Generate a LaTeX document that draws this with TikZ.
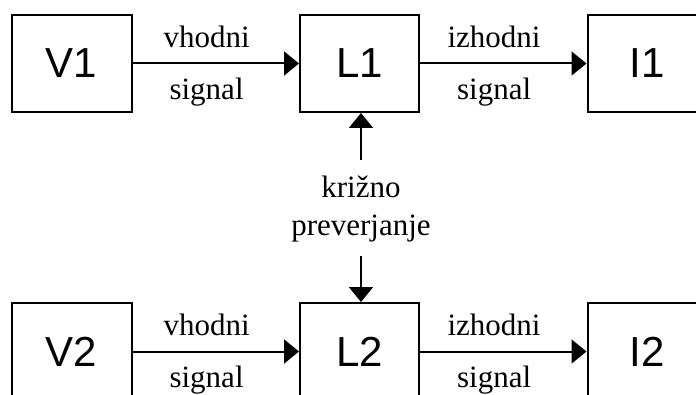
\documentclass[tikz,border=0pt]{standalone}
\usepackage{fontspec}
\setmainfont{Liberation Serif}
\setsansfont{Liberation Sans}
\usetikzlibrary{arrows.meta}

\begin{document}
\begin{tikzpicture}[x=1pt, y=1pt, >={Triangle[length=15pt, width=24pt]}, line width=2pt,
  blok/.style={draw, minimum width=120pt, minimum height=97pt, inner sep=0pt,
    font=\sffamily\fontsize{42}{50}\selectfont},
  oznaka/.style={font=\fontsize{31}{38}\selectfont, align=center, inner sep=0pt}]

% Page frame
\clip (0,0) rectangle (696,394);
\fill[white] (0,0) rectangle (696,394);

% --- Upper chain ---
\node[blok] (V1) at (71.5,330.5) {V1};
\node[blok, minimum width=119pt] (L1) at (359.5,330.5) {L1};
\node[blok] (I1) at (647.5,330.5) {I1};

\draw[->] (V1.east) -- (L1.west)
  node[oznaka, pos=0.445, anchor=base, yshift=16pt] {vhodni}
  node[oznaka, pos=0.445, anchor=base, yshift=-36pt] {signal};
\draw[->] (L1.east) -- (I1.west)
  node[oznaka, pos=0.445, anchor=base, yshift=16pt] {izhodni}
  node[oznaka, pos=0.445, anchor=base, yshift=-36pt] {signal};

% --- Lower chain ---
\node[blok] (V2) at (71.5,42.5) {V2};
\node[blok, minimum width=119pt] (L2) at (359.5,42.5) {L2};
\node[blok] (I2) at (647.5,42.5) {I2};

\draw[->] (V2.east) -- (L2.west)
  node[oznaka, pos=0.445, anchor=base, yshift=16pt] {vhodni}
  node[oznaka, pos=0.445, anchor=base, yshift=-36pt] {signal};
\draw[->] (L2.east) -- (I2.west)
  node[oznaka, pos=0.445, anchor=base, yshift=16pt] {izhodni}
  node[oznaka, pos=0.445, anchor=base, yshift=-36pt] {signal};

% --- Cross check between the two chains ---
\node[oznaka] (kriz) at (361,185) {križno\\preverjanje};
\coordinate (gor) at (361,234);
\coordinate (dol) at (361,138);
\draw[->] (gor) -- (gor |- L1.south);
\draw[->] (dol) -- (dol |- L2.north);

\end{tikzpicture}
\end{document}
